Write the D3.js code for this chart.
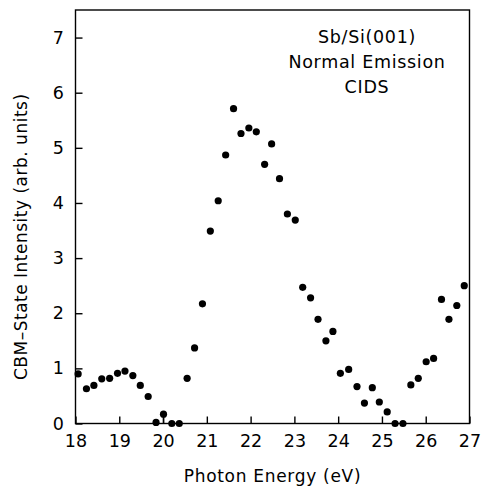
<!DOCTYPE html>
<html>
<head>
<meta charset="utf-8">
<script src="https://cdn.jsdelivr.net/npm/d3@7"></script>
<style>
  html, body { margin: 0; padding: 0; background: #fff; }
  svg { display: block; }
  text { font-family: "DejaVu Sans", sans-serif; fill: #000; }
</style>
</head>
<body>
<svg id="chart" width="482" height="491"></svg>
<script>
// ---- data ----
const energy = [18.06, 18.25, 18.42, 18.60, 18.78, 18.96, 19.13, 19.31, 19.48, 19.66,
  19.84, 20.01, 20.20, 20.37, 20.55, 20.72, 20.90, 21.08, 21.26, 21.43,
  21.61, 21.78, 21.96, 22.13, 22.32, 22.48, 22.66, 22.84, 23.02, 23.19,
  23.37, 23.54, 23.72, 23.88, 24.05, 24.24, 24.43, 24.60, 24.78, 24.94,
  25.12, 25.30, 25.48, 25.66, 25.83, 26.01, 26.18, 26.36, 26.53, 26.71, 26.88];
const intensity = [0.90, 0.63, 0.69, 0.81, 0.82, 0.91, 0.95, 0.87, 0.69, 0.49,
  0.02, 0.17, 0.00, 0.00, 0.82, 1.37, 2.17, 3.49, 4.04, 4.87,
  5.71, 5.26, 5.36, 5.29, 4.70, 5.07, 4.44, 3.80, 3.69, 2.47,
  2.28, 1.89, 1.50, 1.67, 0.91, 0.98, 0.67, 0.37, 0.65, 0.39,
  0.21, 0.00, 0.00, 0.70, 0.82, 1.12, 1.18, 2.25, 1.89, 2.14, 2.50];
// error bar (down to zero) seen on one point
const errEnergy = [20.01];
const errLow = [0.0];
const errHigh = [0.17];

const xTicks = [18, 19, 20, 21, 22, 23, 24, 25, 26, 27];
const yTicks = [0, 1, 2, 3, 4, 5, 6, 7];
const xDomain = [18, 27];
const yDomain = [0, 7.5];

const annotation = ["Sb/Si(001)", "Normal Emission", "CIDS"];
const xLabel = "Photon Energy (eV)";
const yLabel = "CBM\u2013State Intensity (arb. units)";

// ---- layout ----
const svg = d3.select("#chart");
const mLeft = 75.5, mRight = 469.5, mTop = 10, mBottom = 423.5;

const x = d3.scaleLinear().domain(xDomain).range([mLeft, mRight]);
const y = d3.scaleLinear().domain(yDomain).range([mBottom, mTop]);

// frame
svg.append("rect")
  .attr("x", mLeft).attr("y", mTop)
  .attr("width", mRight - mLeft).attr("height", mBottom - mTop)
  .attr("fill", "none").attr("stroke", "#000").attr("stroke-width", 1.4);

// bottom axis
const gx = svg.append("g")
  .attr("transform", `translate(0,${mBottom})`)
  .call(d3.axisBottom(x).tickValues(xTicks).tickFormat(d3.format("d"))
        .tickSize(-7).tickPadding(11.5));
gx.select(".domain").remove();
gx.selectAll(".tick line").attr("stroke", "#000").attr("stroke-width", 1.4);
gx.selectAll(".tick text").style("font-size", "17.5px");
gx.attr("font-family", null).attr("font-size", null);

// left axis
const gy = svg.append("g")
  .attr("transform", `translate(${mLeft},0)`)
  .call(d3.axisLeft(y).tickValues(yTicks).tickFormat(d3.format("d"))
        .tickSize(-7).tickPadding(11.5));
gy.select(".domain").remove();
gy.selectAll(".tick line").attr("stroke", "#000").attr("stroke-width", 1.4);
gy.selectAll(".tick text").style("font-size", "17.5px");
gy.attr("font-family", null).attr("font-size", null);

// error bar
svg.append("g").selectAll("line")
  .data(errEnergy)
  .join("line")
  .attr("x1", (d) => x(d)).attr("x2", (d) => x(d))
  .attr("y1", (d, i) => y(errLow[i])).attr("y2", (d, i) => y(errHigh[i]))
  .attr("stroke", "#000").attr("stroke-width", 1.4);

// points
svg.append("g").selectAll("circle")
  .data(energy)
  .join("circle")
  .attr("cx", (d) => x(d))
  .attr("cy", (d, i) => y(intensity[i]))
  .attr("r", 3.6)
  .attr("fill", "#000");

// annotation
svg.append("g").selectAll("text")
  .data(annotation)
  .join("text")
  .attr("x", 367)
  .attr("y", (d, i) => 43 + i * 25)
  .attr("text-anchor", "middle")
  .style("font-size", "17.5px")
  .style("letter-spacing", "0.7px")
  .text((d) => d);

// axis labels
svg.append("text")
  .attr("x", (mLeft + mRight) / 2)
  .attr("y", 482)
  .attr("text-anchor", "middle")
  .style("font-size", "17px")
  .style("letter-spacing", "0.7px")
  .text(xLabel);

svg.append("text")
  .attr("transform", `translate(27,${(mBottom + mTop) / 2 + 20}) rotate(-90)`)
  .attr("text-anchor", "middle")
  .style("font-size", "17px")
  .style("letter-spacing", "0.5px")
  .text(yLabel);
</script>
</body>
</html>
